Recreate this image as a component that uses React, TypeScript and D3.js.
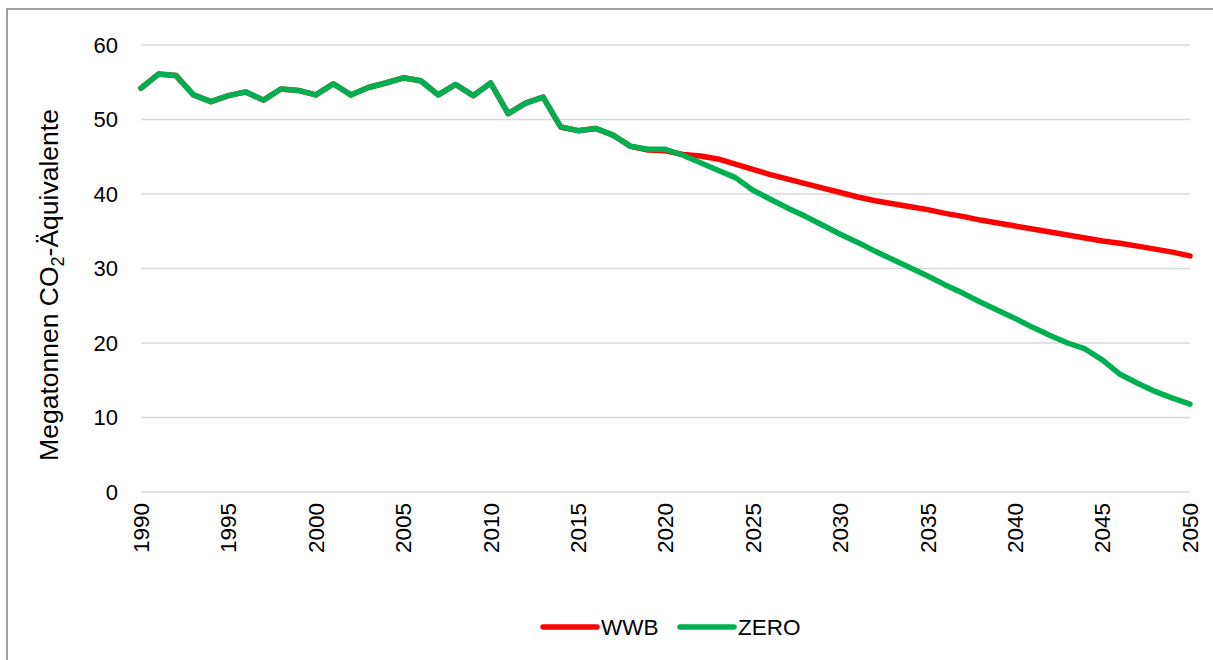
import React, { useEffect, useRef } from 'react';
import * as d3 from 'd3';

// historic values (same for both scenarios up to 2018)
const historyYears: number[] = d3.range(1990, 2021);
const historyValues: number[] = [
  54.2, 56.1, 55.9, 53.3, 52.4, 53.2, 53.7, 52.6, 54.1, 53.9,
  53.3, 54.8, 53.3, 54.3, 54.9, 55.6, 55.2, 53.3, 54.7, 53.2,
  54.9, 50.8, 52.2, 53.0, 49.0, 48.5, 48.8, 47.9, 46.4, 46.0, 46.0,
];
const wwbHistoryEnd: number[] = [45.9, 45.8]; // 2019, 2020 red sits a hair lower

const futureYears: number[] = d3.range(2021, 2051);
const wwbValues: number[] = [
  45.3, 45.1, 44.7, 44.0, 43.3, 42.6, 42.0, 41.4, 40.8, 40.2,
  39.6, 39.1, 38.7, 38.3, 37.9, 37.4, 37.0, 36.5, 36.1, 35.7,
  35.3, 34.9, 34.5, 34.1, 33.7, 33.4, 33.0, 32.6, 32.2, 31.7,
];
const zeroValues: number[] = [
  45.2, 44.2, 43.2, 42.2, 40.5, 39.3, 38.1, 37.0, 35.8, 34.6,
  33.5, 32.3, 31.2, 30.1, 29.0, 27.8, 26.7, 25.5, 24.4, 23.3,
  22.1, 21.0, 20.0, 19.2, 17.7, 15.8, 14.6, 13.5, 12.6, 11.8,
];

const yTicks: number[] = [0, 10, 20, 30, 40, 50, 60];
const xTicks: number[] = d3.range(1990, 2051, 5);
const seriesNames: string[] = ['WWB', 'ZERO'];
const seriesColors: string[] = ['#ff0000', '#00b050'];

type Point = { year: number; value: number };

const App: React.FC = () => {
  const chartRef = useRef<SVGSVGElement | null>(null);

  useEffect(() => {
    const svg = d3.select(chartRef.current);
    svg.selectAll('*').remove();

    const font = 'Liberation Sans, Arial, sans-serif';

    // outer chart border
    svg.append('rect')
      .attr('x', 7).attr('y', 9)
      .attr('width', 1230).attr('height', 680)
      .attr('fill', 'white')
      .attr('stroke', '#808080')
      .attr('stroke-width', 1.5);

    const xScale = d3.scaleLinear().domain([1990, 2050]).range([141, 1190]);
    const yScale = d3.scaleLinear().domain([0, 60]).range([492, 45]);

    // gridlines
    svg.append('g')
      .selectAll('line')
      .data(yTicks)
      .enter()
      .append('line')
      .attr('x1', xScale(1990))
      .attr('x2', xScale(2050))
      .attr('y1', d => yScale(d))
      .attr('y2', d => yScale(d))
      .attr('stroke', '#d9d9d9')
      .attr('stroke-width', 1.5);

    // y labels
    svg.append('g')
      .selectAll('text')
      .data(yTicks)
      .enter()
      .append('text')
      .attr('x', 118)
      .attr('y', d => yScale(d))
      .attr('dy', '0.35em')
      .attr('text-anchor', 'end')
      .attr('font-family', font)
      .attr('font-size', 22)
      .attr('fill', '#000')
      .text(d => d);

    // x labels, rotated
    svg.append('g')
      .selectAll('text')
      .data(xTicks)
      .enter()
      .append('text')
      .attr('transform', d => `translate(${xScale(d)},503) rotate(-90)`)
      .attr('dy', '0.35em')
      .attr('text-anchor', 'end')
      .attr('font-family', font)
      .attr('font-size', 22.5)
      .attr('fill', '#000')
      .text(d => d);

    // y-axis title with subscript 2
    const title = svg.append('text')
      .attr('transform', 'translate(58,285) rotate(-90)')
      .attr('text-anchor', 'middle')
      .attr('font-family', font)
      .attr('font-size', 26.5)
      .attr('fill', '#000');
    title.append('tspan').text('Megatonnen CO');
    title.append('tspan').attr('font-size', 18).attr('dy', 6).text('2');
    title.append('tspan').attr('dy', -6).text('-Äquivalente');

    // build series
    const wwb: Point[] = historyYears.map((y, i) => ({
      year: y,
      value: y >= 2019 ? wwbHistoryEnd[y - 2019] : historyValues[i],
    })).concat(futureYears.map((y, i) => ({ year: y, value: wwbValues[i] })));
    const zero: Point[] = historyYears.map((y, i) => ({ year: y, value: historyValues[i] }))
      .concat(futureYears.map((y, i) => ({ year: y, value: zeroValues[i] })));

    const line = d3.line<Point>()
      .x(d => xScale(d.year))
      .y(d => yScale(d.value));

    [wwb, zero].forEach((series, i) => {
      svg.append('path')
        .datum(series)
        .attr('d', line)
        .attr('fill', 'none')
        .attr('stroke', seriesColors[i])
        .attr('stroke-width', 5.5)
        .attr('stroke-linejoin', 'round')
        .attr('stroke-linecap', 'round');
    });

    // legend
    const legendX = [543, 680];
    seriesNames.forEach((name, i) => {
      svg.append('line')
        .attr('x1', legendX[i])
        .attr('x2', legendX[i] + 54)
        .attr('y1', 627)
        .attr('y2', 627)
        .attr('stroke', seriesColors[i])
        .attr('stroke-width', 5.5)
        .attr('stroke-linecap', 'round');
      svg.append('text')
        .attr('x', legendX[i] + 58)
        .attr('y', 627)
        .attr('dy', '0.35em')
        .attr('font-family', font)
        .attr('font-size', 22.5)
        .attr('fill', '#000')
        .text(name);
    });
  }, []);

  return (
    <svg
      ref={chartRef}
      width={1213}
      height={660}
      style={{ position: 'absolute', left: 0, top: 0, background: 'white' }}
    />
  );
};

export default App;
